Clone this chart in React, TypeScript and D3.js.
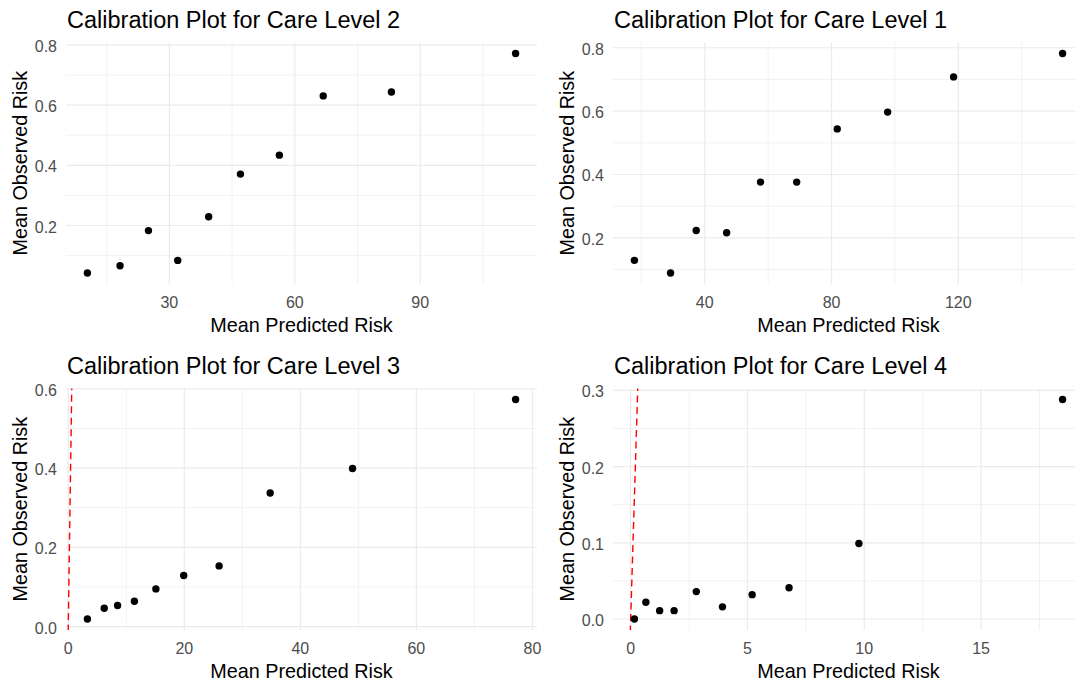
import React, { useEffect } from "react";
import * as d3 from "d3";

// Mean predicted risk (x) and mean observed risk (y) per risk bin, one pair of arrays per care level
const level2Pred = [10.4, 18.2, 25.0, 32.0, 39.4, 47.0, 56.3, 66.8, 83.1, 112.8];
const level2Obs = [0.042, 0.066, 0.183, 0.084, 0.229, 0.371, 0.434, 0.631, 0.644, 0.772];

const level1Pred = [17.8, 29.2, 37.3, 46.9, 57.6, 69.0, 81.8, 97.7, 118.5, 152.9];
const level1Obs = [0.129, 0.089, 0.223, 0.216, 0.376, 0.376, 0.544, 0.597, 0.708, 0.782];

const level3Pred = [3.3, 6.2, 8.5, 11.4, 15.1, 19.9, 26.0, 34.8, 49.0, 77.1];
const level3Obs = [0.019, 0.046, 0.053, 0.064, 0.095, 0.129, 0.153, 0.337, 0.399, 0.573];

const level4Pred = [0.16, 0.65, 1.24, 1.86, 2.81, 3.93, 5.2, 6.78, 9.77, 18.49];
const level4Obs = [0.0, 0.022, 0.011, 0.011, 0.036, 0.016, 0.032, 0.041, 0.099, 0.288];

// Axis breaks
const level2XMajor = [30, 60, 90];
const level2XMinor = [15, 45, 75, 105];
const level1XMajor = [40, 80, 120];
const level1XMinor = [20, 60, 100, 140];
const level3XMajor = [0, 20, 40, 60, 80];
const level3XMinor = [10, 30, 50, 70];
const level4XMajor = [0, 5, 10, 15];
const level4XMinor = [2.5, 7.5, 12.5, 17.5];

const riskYMajor = [0.2, 0.4, 0.6, 0.8];
const riskYMinor = [0.1, 0.3, 0.5, 0.7];
const level3YMajor = [0, 0.2, 0.4, 0.6];
const level3YMinor = [0.1, 0.3, 0.5];
const level4YMajor = [0, 0.1, 0.2, 0.3];
const level4YMinor = [0.05, 0.15, 0.25];

const titles = [
  "Calibration Plot for Care Level 2",
  "Calibration Plot for Care Level 1",
  "Calibration Plot for Care Level 3",
  "Calibration Plot for Care Level 4",
];

const panels = [
  { title: titles[0], pred: level2Pred, obs: level2Obs, xMajor: level2XMajor, xMinor: level2XMinor, yMajor: riskYMajor, yMinor: riskYMinor, col: 0, row: 0 },
  { title: titles[1], pred: level1Pred, obs: level1Obs, xMajor: level1XMajor, xMinor: level1XMinor, yMajor: riskYMajor, yMinor: riskYMinor, col: 1, row: 0 },
  { title: titles[2], pred: level3Pred, obs: level3Obs, xMajor: level3XMajor, xMinor: level3XMinor, yMajor: level3YMajor, yMinor: level3YMinor, col: 0, row: 1 },
  { title: titles[3], pred: level4Pred, obs: level4Obs, xMajor: level4XMajor, xMinor: level4XMinor, yMajor: level4YMajor, yMinor: level4YMinor, col: 1, row: 1 },
];

const WIDTH = 1075;
const HEIGHT = 681;
const CELL_W = 547;
const CELL_H = 346;
const PANEL = { left: 66, top: 42.5, width: 471, height: 241.5 };
const FONT = "'Liberation Sans', Arial, Helvetica, sans-serif";

// 5% padding on each side of the data range
const expand = (ext: [number, number]): [number, number] => {
  const r = ext[1] - ext[0];
  return [ext[0] - 0.05 * r, ext[1] + 0.05 * r];
};

type PanelCfg = (typeof panels)[number];

function CalibrationPanel({ cfg, idx }: { cfg: PanelCfg; idx: number }) {
  const x0 = cfg.col * CELL_W + PANEL.left;
  const y0 = cfg.row * CELL_H + PANEL.top;
  const x1 = x0 + PANEL.width;
  const y1 = y0 + PANEL.height;

  const xScale = d3
    .scaleLinear()
    .domain(expand(d3.extent(cfg.pred) as [number, number]))
    .range([x0, x1]);
  const yScale = d3
    .scaleLinear()
    .domain(expand(d3.extent(cfg.obs) as [number, number]))
    .range([y1, y0]);

  const [xd0, xd1] = xScale.domain();
  const [yd0, yd1] = yScale.domain();
  const inX = (v: number) => v >= xd0 && v <= xd1;
  const inY = (v: number) => v >= yd0 && v <= yd1;

  const fmtY = d3.format(".1f");
  const fmtX = d3.format("d");

  // perfect-calibration reference line y = x
  const lo = Math.min(xd0, yd0);
  const hi = Math.max(xd1, yd1);
  const diag = d3
    .line<number>()
    .x((d) => xScale(d))
    .y((d) => yScale(d))([lo, hi]);

  const points = cfg.pred.map((p, i) => ({ p, o: cfg.obs[i] }));
  const clipId = `panel-clip-${idx}`;

  return (
    <g>
      <defs>
        <clipPath id={clipId}>
          <rect x={x0} y={y0} width={PANEL.width} height={PANEL.height} />
        </clipPath>
      </defs>

      {/* minor grid */}
      {cfg.xMinor.filter(inX).map((v) => (
        <line key={`xm${v}`} x1={xScale(v)} x2={xScale(v)} y1={y0} y2={y1} stroke="#ececec" strokeWidth={0.7} />
      ))}
      {cfg.yMinor.filter(inY).map((v) => (
        <line key={`ym${v}`} x1={x0} x2={x1} y1={yScale(v)} y2={yScale(v)} stroke="#ececec" strokeWidth={0.7} />
      ))}
      {/* major grid */}
      {cfg.xMajor.filter(inX).map((v) => (
        <line key={`xM${v}`} x1={xScale(v)} x2={xScale(v)} y1={y0} y2={y1} stroke="#ebebeb" strokeWidth={1.2} />
      ))}
      {cfg.yMajor.filter(inY).map((v) => (
        <line key={`yM${v}`} x1={x0} x2={x1} y1={yScale(v)} y2={yScale(v)} stroke="#ebebeb" strokeWidth={1.2} />
      ))}

      <g clipPath={`url(#${clipId})`}>
        <path d={diag || ""} fill="none" stroke="#ff0000" strokeWidth={1.4} strokeDasharray="7 4.5" />
      </g>

      {points.map((d, i) => (
        <circle key={i} cx={xScale(d.p)} cy={yScale(d.o)} r={3.7} fill="#000" />
      ))}

      {/* tick labels */}
      {cfg.yMajor.filter(inY).map((v) => (
        <text key={`yl${v}`} x={x0 - 9} y={yScale(v) + 7} textAnchor="end" fontSize={16} fill="#4d4d4d" fontFamily={FONT}>
          {fmtY(v)}
        </text>
      ))}
      {cfg.xMajor.filter(inX).map((v) => (
        <text key={`xl${v}`} x={xScale(v)} y={y1 + 23.5} textAnchor="middle" fontSize={16} fill="#4d4d4d" fontFamily={FONT}>
          {fmtX(v)}
        </text>
      ))}

      {/* titles */}
      <text x={x0 + 1} y={y0 - 14.5} fontSize={23.5} fill="#000" fontFamily={FONT}>
        {cfg.title}
      </text>
      <text x={(x0 + x1) / 2} y={y1 + 48} textAnchor="middle" fontSize={19.8} fill="#000" fontFamily={FONT}>
        Mean Predicted Risk
      </text>
      <text
        transform={`translate(${cfg.col * CELL_W + 27},${(y0 + y1) / 2}) rotate(-90)`}
        textAnchor="middle"
        fontSize={19.8}
        fill="#000"
        fontFamily={FONT}
      >
        Mean Observed Risk
      </text>
    </g>
  );
}

export default function App() {
  useEffect(() => {
    document.body.style.margin = "0";
  }, []);
  return (
    <svg width={WIDTH} height={HEIGHT} style={{ display: "block", background: "#fff" }}>
      <rect x={0} y={0} width={WIDTH} height={HEIGHT} fill="#fff" />
      {panels.map((cfg, i) => (
        <CalibrationPanel key={i} cfg={cfg} idx={i} />
      ))}
    </svg>
  );
}
